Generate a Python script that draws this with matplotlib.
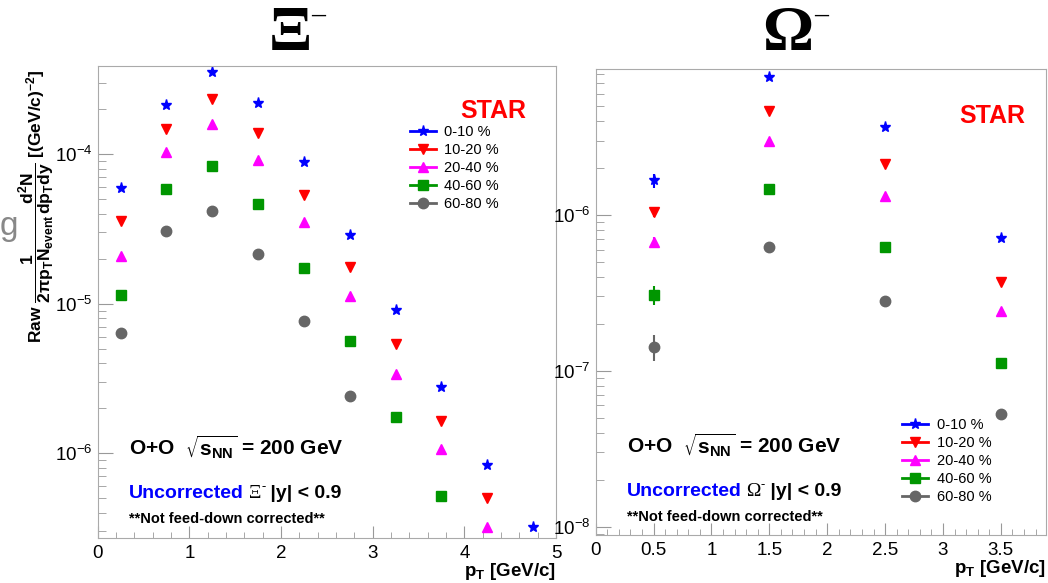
import numpy as np
import matplotlib
matplotlib.use("Agg")
import matplotlib.pyplot as plt
from matplotlib.ticker import LogLocator, NullFormatter, MultipleLocator, FormatStrFormatter
from matplotlib.lines import Line2D

plt.rcParams["font.family"] = ["Liberation Sans", "DejaVu Sans"]
plt.rcParams["mathtext.default"] = "regular"

CENTS = ["0-10 %", "10-20 %", "20-40 %", "40-60 %", "60-80 %"]
COLORS = ["#0000ff", "#ff0000", "#ff00ff", "#009600", "#666666"]
MARKERS = ["*", "v", "^", "s", "o"]
MSIZES = [8, 7.5, 7.5, 7, 7.5]

# Xi- raw spectra
XI_PT = [0.25, 0.75, 1.25, 1.75, 2.25, 2.75, 3.25, 3.75, 4.25, 4.75]
XI_0_10 = [5.98e-5, 2.13e-4, 3.53e-4, 2.20e-4, 8.84e-5, 2.87e-5, 9.05e-6, 2.75e-6, 8.35e-7, 3.18e-7]
XI_10_20 = [3.58e-5, 1.48e-4, 2.34e-4, 1.39e-4, 5.37e-5, 1.75e-5, 5.38e-6, 1.63e-6, 5.0e-7]
XI_20_40 = [2.07e-5, 1.04e-4, 1.59e-4, 9.16e-5, 3.54e-5, 1.13e-5, 3.38e-6, 1.06e-6, 3.2e-7]
XI_40_60 = [1.14e-5, 5.86e-5, 8.40e-5, 4.67e-5, 1.74e-5, 5.61e-6, 1.73e-6, 5.18e-7]
XI_60_80 = [6.41e-6, 3.05e-5, 4.16e-5, 2.16e-5, 7.7e-6, 2.4e-6]

# Omega- raw spectra
OM_PT = [0.5, 1.5, 2.5, 3.5]
OM_0_10 = [1.67e-6, 7.69e-6, 3.66e-6, 7.15e-7]
OM_10_20 = [1.05e-6, 4.65e-6, 2.12e-6, 3.70e-7]
OM_20_40 = [6.68e-7, 2.97e-6, 1.33e-6, 2.42e-7]
OM_40_60 = [3.07e-7, 1.46e-6, 6.23e-7, 1.12e-7]
OM_60_80 = [1.43e-7, 6.26e-7, 2.81e-7, 5.3e-8]
OM_ERR_0_10 = [0.17e-6, 0.05e-6, 0.04e-6, 0.03e-6]
OM_ERR_10_20 = [0.08e-6, 0.03e-6, 0.02e-6, 0.02e-6]
OM_ERR_20_40 = [0.05e-6, 0.02e-6, 0.01e-6, 0.01e-6]
OM_ERR_40_60 = [0.43e-7, 0.1e-7, 0.05e-7, 0.05e-7]
OM_ERR_60_80 = [0.27e-7, 0.05e-7, 0.03e-7, 0.03e-7]

XI_SERIES = [XI_0_10, XI_10_20, XI_20_40, XI_40_60, XI_60_80]
OM_SERIES = [OM_0_10, OM_10_20, OM_20_40, OM_40_60, OM_60_80]
OM_ERRS = [OM_ERR_0_10, OM_ERR_10_20, OM_ERR_20_40, OM_ERR_40_60, OM_ERR_60_80]

W, H = 1048, 583
fig = plt.figure(figsize=(W / 100, H / 100), dpi=100)


def px_axes(x0, y0, x1, y1):
    return fig.add_axes([x0 / W, 1 - y1 / H, (x1 - x0) / W, (y1 - y0) / H])


def style(ax, xmax, xmaj, xmin_, ylim):
    ax.set_yscale("log")
    ax.set_xlim(0, xmax)
    ax.set_ylim(*ylim)
    for s in ax.spines.values():
        s.set_color("#aaaaaa")
    ax.xaxis.set_major_locator(MultipleLocator(xmaj))
    ax.xaxis.set_minor_locator(MultipleLocator(xmin_))
    ax.xaxis.set_major_formatter(FormatStrFormatter("%g"))
    ax.yaxis.set_major_locator(LogLocator(base=10))
    ax.yaxis.set_minor_locator(LogLocator(base=10, subs=np.arange(2, 10)))
    ax.yaxis.set_minor_formatter(NullFormatter())
    ax.tick_params(which="both", direction="in", color="#999999", labelsize=13.5)
    ax.tick_params(axis="y", which="major", length=11, pad=4)
    ax.tick_params(axis="y", which="minor", length=5.5)
    ax.tick_params(axis="x", which="major", length=8.5, pad=5)
    ax.tick_params(axis="x", which="minor", length=4)
    ax.set_xlabel(r"p$_{T}$ [GeV/c]", loc="right", fontsize=13.5,
                  fontweight="bold", labelpad=-1)


def annot_line(ax, x, y, sym):
    t0 = ax.text(x, y, "O+O  $\\sqrt{s_{NN}}$ = 200 GeV", transform=ax.transAxes,
                 fontsize=15, fontweight="bold")
    t1 = ax.text(x, y - 0.092, "Uncorrected", transform=ax.transAxes,
                 fontsize=14, fontweight="bold", color="#0000ff")
    t2 = ax.annotate(" " + sym, xy=(1, 0), xycoords=t1, va="bottom",
                     fontsize=14, family="Liberation Serif")
    t3 = ax.annotate("-", xy=(1, 0.55), xycoords=t2, va="bottom",
                     fontsize=9, family="Liberation Serif")
    ax.annotate(" |y| < 0.9", xy=(1, 0), xycoords=(t3, t1), va="bottom",
                fontsize=14, fontweight="bold")
    ax.text(x, y - 0.145, "**Not feed-down corrected**", transform=ax.transAxes,
            fontsize=10.5, fontweight="bold")
    return t0


handles = [Line2D([], [], color=c, marker=m, ms=ms, lw=2)
           for c, m, ms in zip(COLORS, MARKERS, MSIZES)]

# ---- Xi panel ---------------------------------------------------------------
ax0 = px_axes(97.7, 66, 556, 538)
style(ax0, 5, 1, 0.2, (2.7e-7, 3.9e-4))
for vals, c, m, ms in zip(XI_SERIES, COLORS, MARKERS, MSIZES):
    ax0.plot(XI_PT[:len(vals)], vals, ls="none", marker=m, ms=ms, color=c)
ax0.text(0.935, 0.905, "STAR", transform=ax0.transAxes, color="#ff0000",
         fontsize=18, fontweight="bold", ha="right", va="center")
annot_line(ax0, 0.068, 0.176, "\u039e")
ax0.legend(handles, CENTS, loc="upper left", bbox_to_anchor=(409.5 / W, 1 - 125 / H),
           bbox_transform=fig.transFigure, frameon=False, fontsize=10.5,
           handlelength=1.8, handletextpad=0.6, labelspacing=0.27, borderpad=0,
           borderaxespad=0)

# ---- Omega panel ------------------------------------------------------------
ax1 = px_axes(595.7, 69.3, 1046, 535)
style(ax1, 3.89, 0.5, 0.1, (8.85e-9, 8.6e-6))
for vals, err, c, m, ms in zip(OM_SERIES, OM_ERRS, COLORS, MARKERS, MSIZES):
    ax1.errorbar(OM_PT, vals, yerr=err, fmt=m, ms=ms, color=c, elinewidth=1.5,
                 capsize=0)
ax1.text(0.955, 0.9, "STAR", transform=ax1.transAxes, color="#ff0000",
         fontsize=18, fontweight="bold", ha="right", va="center")
annot_line(ax1, 0.069, 0.175, "\u03a9")
ax1.legend(handles, CENTS, loc="upper left", bbox_to_anchor=(901.7 / W, 1 - 418 / H),
           bbox_transform=fig.transFigure, frameon=False, fontsize=10.5,
           handlelength=1.8, handletextpad=0.6, labelspacing=0.27, borderpad=0,
           borderaxespad=0)

# ---- titles / labels --------------------------------------------------------
fig.text(290 / W, 1 - 50 / H, "\u039e", ha="center", va="baseline", fontsize=46,
         fontweight="bold", family="Liberation Serif")
fig.text(318 / W, 1 - 15 / H, "\u2013", ha="center", va="center", fontsize=20,
         fontweight="bold", family="Liberation Serif")
fig.text(788 / W, 1 - 50 / H, "\u03a9", ha="center", va="baseline", fontsize=46,
         fontweight="bold", family="Liberation Serif")
fig.text(821 / W, 1 - 15 / H, "\u2013", ha="center", va="center", fontsize=20,
         fontweight="bold", family="Liberation Serif")

fig.text(37 / W, 1 - 206 / H,
         r"Raw $\dfrac{1}{2\pi p_{T}N_{event}}\dfrac{d^{2}N}{dp_{T}dy}$ [(GeV/c)$^{-2}$]",
         rotation=90, ha="center", va="center", fontsize=12.5, fontweight="bold")
# leftover glyph at the left edge
fig.text(0, 1 - 226 / H, "g", ha="left", va="center", fontsize=24,
         color="#888888")

fig.savefig("out.png", dpi=100)
